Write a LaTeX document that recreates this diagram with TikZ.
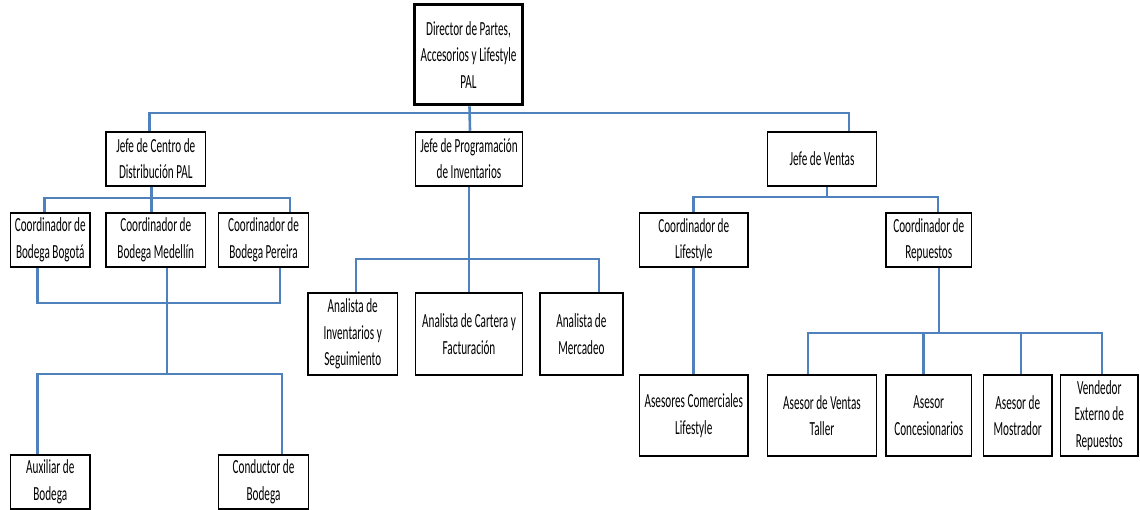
\documentclass[tikz,border=0pt]{standalone}
\usepackage{fontspec}
\setmainfont[FakeStretch=0.56]{Carlito}
\definecolor{connblue}{RGB}{79,129,189}
\begin{document}
\begin{tikzpicture}[x=1pt,y=-1pt,
  box/.style={draw=black, line width=1.9pt, inner sep=0pt, align=center, fill=white,
    font=\fontsize{20}{26.5}\selectfont},
  conn/.style={draw=connblue, line width=2.6pt}]
\useasboundingbox (0,0) rectangle (1140,510);
\coordinate (j1) at (469,113);
\coordinate (j2) at (152,198);
\coordinate (j3) at (167,303);
\coordinate (j4) at (167,374);
\coordinate (j5) at (469,259);
\coordinate (j6) at (827,197);
\coordinate (j7) at (939,333);
% nodes
\node[box, line width=3.2pt, minimum width=108pt, minimum height=100pt] (dir) at (468.5,54.7)
  {Director de Partes,\\Accesorios y Lifestyle\\PAL};
\node[box, minimum width=99.5pt, minimum height=54pt] (jcd) at (155.75,158.7) {Jefe de Centro de\\Distribución PAL};
\node[box, minimum width=107pt, minimum height=54pt] (jprog) at (469,158.7) {Jefe de Programación\\de Inventarios};
\node[box, minimum width=109pt, minimum height=54pt] (jv) at (822,158.7) {Jefe de Ventas};
\node[box, minimum width=79.5pt, minimum height=54.6pt] (cbog) at (50.25,240) {Coordinador de\\Bodega Bogotá};
\node[box, minimum width=99.5pt, minimum height=54.6pt] (cmed) at (155.75,240) {Coordinador de\\Bodega Medellín};
\node[box, minimum width=90pt, minimum height=54.6pt] (cper) at (263.5,240) {Coordinador de\\Bodega Pereira};
\node[box, minimum width=79.5pt, minimum height=54pt] (aux) at (50.25,482) {Auxiliar de\\Bodega};
\node[box, minimum width=90pt, minimum height=54pt] (cond) at (263.5,482) {Conductor de\\Bodega};
\node[box, minimum width=89.5pt, minimum height=82pt] (ainv) at (352.75,334) {Analista de\\Inventarios y\\Seguimiento};
\node[box, minimum width=107pt, minimum height=82pt] (acart) at (469,334) {Analista de Cartera y\\Facturación};
\node[box, minimum width=82.7pt, minimum height=82pt] (amerc) at (581.4,334) {Analista de\\Mercadeo};
\node[box, minimum width=108.5pt, minimum height=54.6pt] (clife) at (693.75,240) {Coordinador de\\Lifestyle};
\node[box, minimum width=85.5pt, minimum height=54.6pt] (crep) at (928.75,240) {Coordinador de\\Repuestos};
\node[box, minimum width=108.5pt, minimum height=81pt] (acl) at (693.75,415.5) {Asesores Comerciales\\Lifestyle};
\node[box, minimum width=109pt, minimum height=81pt] (avt) at (822,415.5) {Asesor de Ventas\\Taller};
\node[box, minimum width=85.5pt, minimum height=81pt] (acon) at (928.75,415.5) {Asesor\\Concesionarios};
\node[box, minimum width=68.5pt, minimum height=81pt] (amos) at (1017.75,415.5) {Asesor de\\Mostrador};
\node[box, minimum width=77.5pt, minimum height=81pt] (vext) at (1099.25,415.5) {Vendedor\\Externo de\\Repuestos};
% connectors
\draw[conn] ([xshift=1pt]dir.south) -- ([xshift=1pt]jprog.north);
\draw[conn] ([xshift=-6pt]jcd.north) |- (j1) -| ([xshift=27pt]jv.north);
\draw[conn] ([xshift=-4pt]jcd.south) -- ([xshift=-4pt]cmed.north);
\draw[conn] ([xshift=-6pt]cbog.north) |- (j2) -| ([xshift=26.5pt]cper.north);
\draw[conn] ([xshift=-13pt]cbog.south) |- (j3) -| ([xshift=16.5pt]cper.south);
\draw[conn] ([xshift=11.25pt]cmed.south) -- (j4);
\draw[conn] ([xshift=-13pt]aux.north) |- (j4) -| ([xshift=18.5pt]cond.north);
\draw[conn] (jprog.south) -- (acart.north);
\draw[conn] ([xshift=3.25pt]ainv.north) |- (j5) -| ([xshift=17.6pt]amerc.north);
\draw[conn] ([xshift=5pt]jv.south) -- (j6);
\draw[conn] (clife.north) |- (j6) -| ([xshift=9.25pt]crep.north);
\draw[conn] (clife.south) -- (acl.north);
\draw[conn] ([xshift=10.25pt]crep.south) -- (j7);
\draw[conn] ([xshift=-14pt]avt.north) |- (j7) -| ([xshift=2.75pt]vext.north);
\draw[conn] ([xshift=-5.25pt]acon.north |- j7) -- ([xshift=-5.25pt]acon.north);
\draw[conn] ([xshift=3.25pt]amos.north |- j7) -- ([xshift=3.25pt]amos.north);
\end{tikzpicture}
\end{document}
